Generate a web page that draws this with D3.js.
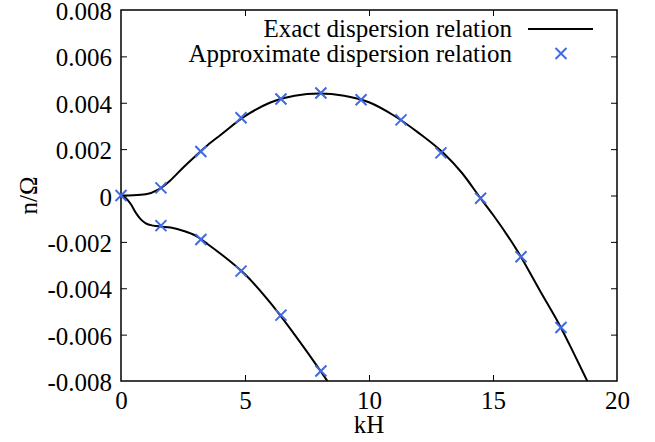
<!DOCTYPE html>
<html>
<head>
<meta charset="utf-8">
<script src="https://cdn.jsdelivr.net/npm/d3@7"></script>
<style>
  html, body { margin: 0; padding: 0; background: #fff; }
  svg { display: block; }
</style>
</head>
<body>
<svg id="chart" width="655" height="442" style="font-family:'Liberation Serif',serif"></svg>
<script>
// ---- data ----
const xTicks = [0, 5, 10, 15, 20];
const xTickLabels = ["0", "5", "10", "15", "20"];
const yTicks = [-0.008, -0.006, -0.004, -0.002, 0, 0.002, 0.004, 0.006, 0.008];
const yTickLabels = ["-0.008", "-0.006", "-0.004", "-0.002", "0", "0.002", "0.004", "0.006", "0.008"];

// exact dispersion relation, growing branch
const exactUpperX = [0, 0.5, 1.0, 1.5, 2.0, 2.5, 3, 3.5, 4, 5, 6, 7, 8, 9, 10, 11, 12, 13, 13.75, 14.5, 15, 16, 16.9, 17.74, 18.2, 18.8];
const exactUpperY = [0, 0.00001, 0.00005, 0.00025, 0.00066, 0.0012, 0.0017, 0.00218, 0.0026, 0.00342, 0.0040, 0.0043, 0.0044, 0.0043, 0.00402, 0.00345, 0.0027, 0.00183, 0.00097, -0.00012, -0.00083, -0.00242, -0.00412, -0.0057, -0.00668, -0.008];
// exact dispersion relation, decaying branch
const exactLowerX = [0, 0.2, 0.4, 0.6, 0.8, 1.0, 1.3, 1.6, 2.0, 2.5, 3, 3.5, 4, 5, 6, 7, 8, 8.32];
const exactLowerY = [0, -0.00012, -0.00038, -0.00075, -0.00103, -0.0012, -0.0013, -0.00134, -0.00138, -0.00152, -0.00173, -0.0021, -0.0025, -0.0034, -0.0046, -0.006, -0.0075, -0.008];

// approximate dispersion relation (markers)
const approxUpperX = [0, 1.61, 3.22, 4.84, 6.45, 8.06, 9.68, 11.29, 12.9, 14.5, 16.13, 17.74];
const approxUpperY = [0, 0.00033, 0.0019, 0.00335, 0.00416, 0.00442, 0.00413, 0.00326, 0.00184, -0.00012, -0.00264, -0.00569];
const approxLowerX = [1.61, 3.22, 4.84, 6.45, 8.06];
const approxLowerY = [-0.0013, -0.0019, -0.00326, -0.00516, -0.00757];

const legendLabels = ["Exact dispersion relation", "Approximate dispersion relation"];
const xLabel = "kH";
const yLabel = "n/Ω";

// ---- layout ----
const W = 655, H = 442;
const m = { left: 121, right: 38, top: 10, bottom: 61 };
const svg = d3.select("#chart");
const x = d3.scaleLinear().domain([0, 20]).range([m.left, W - m.right]);
const y = d3.scaleLinear().domain([-0.008, 0.008]).range([H - m.bottom, m.top]);
const FONT = "font-family:'Liberation Serif',serif;font-size:25px";
const blue = "#4169e1";

const defs = svg.append("defs");
defs.append("clipPath").attr("id", "clip").append("rect")
  .attr("x", x(0)).attr("y", y(0.008)).attr("width", x(20) - x(0)).attr("height", y(-0.008) - y(0.008));

// axes with inward ticks
const tickLen = 6;
const fmtX = (d) => xTickLabels[xTicks.indexOf(d)];
const fmtY = (d) => yTickLabels[yTicks.indexOf(d)];

const gB = svg.append("g").attr("transform", `translate(0,${y(-0.008)})`)
  .call(d3.axisBottom(x).tickValues(xTicks).tickFormat(fmtX).tickSizeInner(-tickLen).tickSizeOuter(0).tickPadding(10));
const gT = svg.append("g").attr("transform", `translate(0,${y(0.008)})`)
  .call(d3.axisTop(x).tickValues(xTicks).tickFormat("").tickSizeInner(-tickLen).tickSizeOuter(0));
const gL = svg.append("g").attr("transform", `translate(${x(0)},0)`)
  .call(d3.axisLeft(y).tickValues(yTicks).tickFormat(fmtY).tickSizeInner(-tickLen).tickSizeOuter(0).tickPadding(9));
const gR = svg.append("g").attr("transform", `translate(${x(20)},0)`)
  .call(d3.axisRight(y).tickValues(yTicks).tickFormat("").tickSizeInner(-tickLen).tickSizeOuter(0));

[gB, gT, gL, gR].forEach(g => {
  g.attr("font-family", null).attr("font-size", null);
  g.select(".domain").remove();
  g.selectAll(".tick line").attr("stroke", "#000").attr("stroke-width", 1);
  g.selectAll("text").attr("fill", "#000").attr("style", FONT);
});
// hide end ticks that coincide with the frame
gB.selectAll(".tick").filter(d => d === 0 || d === 20).select("line").remove();
gT.selectAll(".tick").filter(d => d === 0 || d === 20).select("line").remove();
gL.selectAll(".tick").filter(d => d === -0.008 || d === 0.008).select("line").remove();
gR.selectAll(".tick").filter(d => d === -0.008 || d === 0.008).select("line").remove();
gL.selectAll("text").attr("dy", "0.38em");
gB.selectAll("text").attr("dy", "0.71em");

// frame
svg.append("rect")
  .attr("x", x(0)).attr("y", y(0.008))
  .attr("width", x(20) - x(0)).attr("height", y(-0.008) - y(0.008))
  .attr("fill", "none").attr("stroke", "#000").attr("stroke-width", 1.5);

// axis labels
svg.append("text").attr("x", x(10)).attr("y", 433).attr("text-anchor", "middle")
  .attr("style", FONT).text(xLabel);
svg.append("text").attr("transform", `translate(37,${y(0)}) rotate(-90)`).attr("text-anchor", "middle")
  .attr("style", FONT).text(yLabel);

// exact curves
const line = d3.line().x(d => x(d[0])).y(d => y(d[1])).curve(d3.curveMonotoneX);
const plot = svg.append("g").attr("clip-path", "url(#clip)");
[[exactUpperX, exactUpperY], [exactLowerX, exactLowerY]].forEach(([xs, ys]) => {
  plot.append("path").datum(xs.map((v, i) => [v, ys[i]]))
    .attr("d", line).attr("fill", "none").attr("stroke", "#000").attr("stroke-width", 2);
});

// markers
const cross = (g, cx, cy, r) => {
  g.append("path").attr("d", `M${cx - r},${cy - r}L${cx + r},${cy + r}M${cx - r},${cy + r}L${cx + r},${cy - r}`)
    .attr("stroke", blue).attr("stroke-width", 2).attr("fill", "none");
};
const markers = svg.append("g");
const pts = approxUpperX.map((v, i) => [v, approxUpperY[i]])
  .concat(approxLowerX.map((v, i) => [v, approxLowerY[i]]));
pts.forEach(p => cross(markers, x(p[0]), y(p[1]), 5.5));

// legend
const lg = svg.append("g");
lg.append("text").attr("x", 512).attr("y", 37).attr("text-anchor", "end")
  .attr("style", FONT).text(legendLabels[0]);
lg.append("line").attr("x1", 528).attr("x2", 593).attr("y1", 29).attr("y2", 29)
  .attr("stroke", "#000").attr("stroke-width", 2);
lg.append("text").attr("x", 512).attr("y", 61.5).attr("text-anchor", "end")
  .attr("style", FONT).text(legendLabels[1]);
cross(lg, 561, 53.5, 5.5);
</script>
</body>
</html>
